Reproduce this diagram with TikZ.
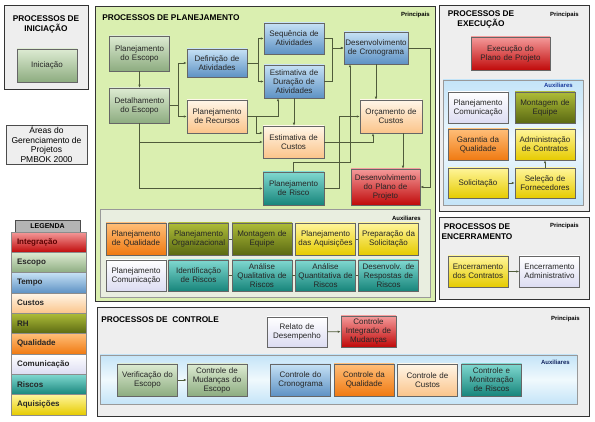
\documentclass[tikz,border=0pt]{standalone}
\usepackage{fontspec}
\setmainfont{Liberation Sans}
\usetikzlibrary{arrows.meta,positioning,calc}

\definecolor{escTop}{HTML}{DDEBD2}
\definecolor{escBot}{HTML}{8DAC80}
\definecolor{temTop}{HTML}{C6E1F5}
\definecolor{temBot}{HTML}{5E92C4}
\definecolor{cusTop}{HTML}{FFF6E8}
\definecolor{cusBot}{HTML}{FBC48A}
\definecolor{rhTop}{HTML}{AEBC38}
\definecolor{rhBot}{HTML}{5A6912}
\definecolor{quaTop}{HTML}{FFBE78}
\definecolor{quaBot}{HTML}{F07A12}
\definecolor{comTop}{HTML}{FFFFFF}
\definecolor{comBot}{HTML}{DCDCF2}
\definecolor{risTop}{HTML}{80D8D0}
\definecolor{risBot}{HTML}{17857B}
\definecolor{aqTop}{HTML}{FFF59A}
\definecolor{aqBot}{HTML}{E6CB00}
\definecolor{intTop}{HTML}{F49A9A}
\definecolor{intBot}{HTML}{C00A0A}
\definecolor{cinzapainel}{HTML}{EEEEEE}
\definecolor{cinzaleg}{HTML}{B4B4B4}
\definecolor{verdeplan}{HTML}{DAEFB0}
\definecolor{cinzaaux}{HTML}{E9EEE0}
\definecolor{azulA}{HTML}{C4E4F8}
\definecolor{azulB}{HTML}{F0F9FD}
\definecolor{linhacor}{HTML}{4F5B3A}
\definecolor{azultxt}{HTML}{1A3A9C}

\tikzset{
  every picture/.style={line width=0.5pt},
  caixa/.style={draw=black!60, minimum width=60pt, minimum height=32pt, text width=58pt,
    align=center, inner sep=0pt, font=\fontsize{8}{9}\selectfont, text=black!85},
  escopo/.style={top color=escTop, bottom color=escBot},
  tempo/.style={top color=temTop, bottom color=temBot},
  custos/.style={top color=cusTop, bottom color=cusBot},
  rh/.style={top color=rhTop, bottom color=rhBot},
  qualidade/.style={top color=quaTop, bottom color=quaBot},
  comunicacao/.style={top color=comTop, bottom color=comBot},
  riscos/.style={top color=risTop, bottom color=risBot},
  aquisicoes/.style={top color=aqTop, bottom color=aqBot},
  integracao/.style={top color=intTop, bottom color=intBot},
  seta/.style={draw=linhacor, line width=0.6pt, -{Latex[length=3pt,width=2.4pt]}},
  linha/.style={draw=linhacor, line width=0.6pt},
  painel/.style={draw=black!80, line width=1pt, fill=cinzapainel},
  subpainel/.style={draw=black!40, line width=0.6pt},
  titulo/.style={font=\bfseries\fontsize{8.3}{10}\selectfont, align=center, inner sep=0pt},
  principais/.style={font=\bfseries\fontsize{6}{7}\selectfont, inner sep=0pt, anchor=east},
  legenda/.style={draw=black!45, minimum width=75pt, minimum height=20.3pt, text width=63pt,
    align=left, inner sep=0pt, font=\bfseries\fontsize{8}{9}\selectfont, text=black!85},
}

\begin{document}
\begin{tikzpicture}[x=1pt,y=-1pt]
    \useasboundingbox (0,0) rectangle (595,422);
    \fill[white] (0,0) rectangle (595,422);

    % Iniciação
    \draw[painel] (4,6) rectangle (88,90);
    \node[titulo] (tinic) at (46,24) {PROCESSOS DE\\INICIAÇÃO};
    \node[caixa, escopo, minimum height=33pt] (inic) at (47,65.5) {Iniciação};

    % Áreas do gerenciamento
    \node[draw=black!70, fill=cinzapainel, minimum width=81pt, minimum height=39pt, align=center,
      inner sep=0pt, font=\fontsize{8.5}{9.5}\selectfont] (areas) at (46.5,144.5)
      {Áreas do\\Gerenciamento de\\Projetos\\PMBOK 2000};

    % Legenda
    \node[draw=black!70, fill=cinzaleg, minimum width=65pt, minimum height=12pt, inner sep=0pt,
      font=\bfseries\fontsize{7}{8}\selectfont] (legtit) at (47.5,226) {LEGENDA};
    \node[legenda, integracao, text=red!35!black] (legint) at (48.5,242.2) {Integração};
    \node[legenda, escopo] (legesc) at (48.5,262.5) {Escopo};
    \node[legenda, tempo] (legtem) at (48.5,282.8) {Tempo};
    \node[legenda, custos] (legcus) at (48.5,303.2) {Custos};
    \node[legenda, rh] (legrh) at (48.5,323.5) {RH};
    \node[legenda, qualidade] (legqua) at (48.5,343.8) {Qualidade};
    \node[legenda, comunicacao] (legcom) at (48.5,364.2) {Comunicação};
    \node[legenda, riscos] (legris) at (48.5,384.5) {Riscos};
    \node[legenda, aquisicoes] (legaq) at (48.5,404.8) {Aquisições};

    % Planejamento
    \draw[painel, fill=verdeplan] (95,7) rectangle (435,302);
    \node[titulo, anchor=west] (tplan) at (102,18) {PROCESSOS DE PLANEJAMENTO};
    \node[principais] (pplan) at (430,15) {Principais};

    \node[caixa, escopo, minimum height=35pt] (pesc) at (139.5,53.5) {Planejamento\\do Escopo};
    \node[caixa, escopo, minimum height=35pt] (det) at (139.5,105.5) {Detalhamento\\do Escopo};
    \node[caixa, tempo, minimum height=28pt] (defat) at (217,63) {Definição de\\Atividades};
    \node[caixa, custos, minimum height=33pt] (rec) at (217,116.5) {Planejamento\\de Recursos};
    \node[caixa, tempo, minimum height=31pt] (seq) at (294,38.5) {Sequência de\\Atividades};
    \node[caixa, tempo, minimum height=33pt] (dur) at (294,81.5) {Estimativa de\\Duração de\\Atividades};
    \node[caixa, tempo, minimum width=64pt, text width=63pt] (cron) at (376,48) {Desenvolvimento\\de Cronograma};
    \node[caixa, custos, minimum width=61pt] (estc) at (293.5,142) {Estimativa de\\Custos};
    \node[caixa, custos, minimum width=62pt, minimum height=33pt] (orc) at (391,116.5) {Orçamento de\\Custos};
    \node[caixa, riscos, minimum width=61pt, minimum height=33pt] (risco) at (293.5,188.5) {Planejamento\\de Risco};
    \node[caixa, integracao, minimum width=69pt, text width=66pt, minimum height=36pt] (plano) at (385.5,187)
      {Desenvolvimento\\do Plano de\\Projeto};

    \draw[seta] (pesc) -- (det);
    \draw[seta] (det.east) -- ++(9,0) |- (defat.west);
    \draw[seta] (det.east) -- ++(9,0) |- (rec.west);
    \draw[seta] (defat.east) -- ++(11,0) |- (seq.west);
    \draw[seta] (defat.east) -- ++(11,0) |- (dur.west);
    \draw[seta] (seq.east) -- ++(8,0) |- (cron.west);
    \draw[seta] (dur.east) -- ++(8,0) |- (cron.west);
    \draw[seta] (rec.east) -| ([xshift=-16pt]dur.south);
    \draw[seta] (rec.east) -- ++(9,0) |- ([yshift=9pt]estc.west);
    \draw[seta] (dur.south) -- (dur.south |- estc.north);
    \draw[seta] (det.south) |- (estc.west);
    \draw[seta] (det.south) |- (risco.west);
    \draw[seta] (estc.east) -| ([xshift=-18pt]orc.south);
    \draw[seta] (risco.east) -- ++(15,0) |- (orc.west);
    \draw[seta] (risco.north) -- ++(0,-9) -| ([xshift=-26pt]cron.south);
    \draw[seta] (cron.south) -- (cron.south |- orc.north);
    \draw[seta] (cron.east) -- ++(22,0) |- (plano.east);
    \draw[seta] ([xshift=12pt]orc.south) -- ([xshift=12pt]orc.south |- plano.north);

    % Planejamento - auxiliares
    \draw[subpainel, fill=cinzaaux] (100,209) rectangle (430,297);
    \node[principais] (aplan) at (421,218) {Auxiliares};
    \node[caixa, qualidade] (pqua) at (136,239) {Planejamento\\de Qualidade};
    \node[caixa, rh] (porg) at (198.5,239) {Planejamento\\Organizacional};
    \node[caixa, rh] (meq) at (262,239) {Montagem de\\Equipe};
    \node[caixa, aquisicoes] (paq) at (325.5,239) {Planejamento\\das Aquisições};
    \node[caixa, aquisicoes] (prep) at (388.5,239) {Preparação da\\Solicitação};
    \node[caixa, comunicacao, minimum height=31pt] (pcom) at (136,275.5) {Planejamento\\Comunicação};
    \node[caixa, riscos, minimum height=31pt] (idr) at (198.5,275.5) {Identificação\\de Riscos};
    \node[caixa, riscos, minimum height=31pt] (aql) at (262,275.5) {Análise\\Qualitativa de\\Riscos};
    \node[caixa, riscos, minimum height=31pt] (aqt) at (325.5,275.5) {Análise\\Quantitativa de\\Riscos};
    \node[caixa, riscos, minimum height=31pt] (drr) at (388.5,275.5) {Desenvolv. de\\Respostas de\\Riscos};
    \draw[linha] (porg) -- (meq);
    \draw[linha] (paq) -- (prep);
    \draw[linha] (idr) -- (aql);
    \draw[linha] (aql) -- (aqt);
    \draw[linha] (aqt) -- (drr);

    % Execução
    \draw[painel] (439,6) rectangle (589,212);
    \node[titulo] (texe) at (481,19.5) {PROCESSOS DE\\EXECUÇÃO};
    \node[principais] (pexe) at (579,15) {Principais};
    \node[caixa, integracao, minimum width=79pt, text width=76pt, minimum height=33pt] (exe) at (510.5,53.5)
      {Execução do\\Plano de Projeto};
    \draw[subpainel, top color=azulA, bottom color=azulA, middle color=azulB] (443,80) rectangle (583,205);
    \node[principais, text=azultxt] (aexe) at (573,85) {Auxiliares};
    \node[caixa, comunicacao, minimum height=31pt] (ecom) at (478,107.5) {Planejamento\\Comunicação};
    \node[caixa, rh, minimum height=31pt] (emeq) at (545,107.5) {Montagem de\\Equipe};
    \node[caixa, qualidade, minimum height=31pt] (gqua) at (478,144.5) {Garantia da\\Qualidade};
    \node[caixa, aquisicoes, minimum height=31pt] (adm) at (545,144.5) {Administração\\de Contratos};
    \node[caixa, aquisicoes, minimum height=30pt] (sol) at (478,183) {Solicitação};
    \node[caixa, aquisicoes, minimum height=30pt] (sel) at (545,183) {Seleção de\\Fornecedores};
    \draw[seta] (sol) -- (sel);
    \draw[seta] (sel) -- (adm);

    % Encerramento
    \draw[painel] (439,218) rectangle (589,300);
    \node[titulo] (tenc) at (477,231.5) {PROCESSOS DE\\ENCERRAMENTO};
    \node[principais] (penc) at (579,226) {Principais};
    \node[caixa, aquisicoes, minimum height=31pt] (enc1) at (478,271.5) {Encerramento\\dos Contratos};
    \node[caixa, comunicacao, minimum height=31pt] (enc2) at (549.5,271.5) {Encerramento\\Administrativo};
    \draw[seta] (enc1) -- (enc2);

    % Controle
    \draw[painel] (97,308) rectangle (589,416);
    \node[titulo, anchor=west] (tcon) at (101,320) {PROCESSOS DE~~CONTROLE};
    \node[principais] (pcon) at (580,319) {Principais};
    \node[caixa, comunicacao, minimum height=30pt] (relato) at (297,332) {Relato de\\Desempenho};
    \node[caixa, integracao, minimum width=55pt, text width=54pt, minimum height=31pt] (cim) at (368.5,331.5)
      {Controle\\Integrado de\\Mudanças};
    \draw[seta] (relato) -- (cim);
    \draw[subpainel, top color=azulA, bottom color=azulA, middle color=azulB] (100,355) rectangle (577,404);
    \node[principais, text=azultxt!60!black] (acon) at (570,362) {Auxiliares};
    \node[caixa, escopo] (verif) at (147.5,380) {Verificação do\\Escopo};
    \node[caixa, escopo] (cmud) at (217,380) {Controle de\\Mudanças do\\Escopo};
    \node[caixa, tempo] (ccron) at (300.5,380) {Controle do\\Cronograma};
    \node[caixa, qualidade] (cqua) at (364,380) {Controle da\\Qualidade};
    \node[caixa, custos] (ccus) at (427.5,380) {Controle de\\Custos};
    \node[caixa, riscos] (cris) at (491.5,380) {Controle e\\Monitoração\\de Riscos};
    \draw[seta] (verif) -- (cmud);
\end{tikzpicture}
\end{document}
